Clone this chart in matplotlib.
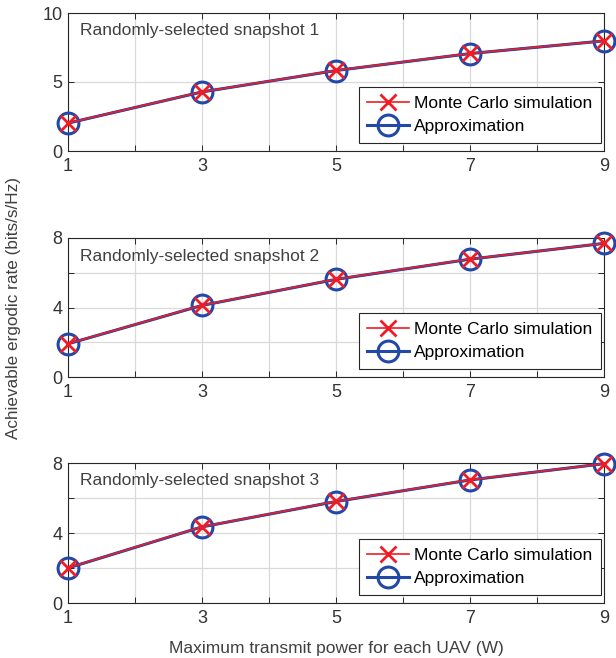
import matplotlib
matplotlib.use("Agg")
import matplotlib.pyplot as plt

power = [1, 3, 5, 7, 9]
mc1 = [2.03, 4.29, 5.84, 7.07, 7.98]
ap1 = [2.02, 4.28, 5.83, 7.06, 7.98]
mc2 = [1.92, 4.13, 5.63, 6.79, 7.69]
ap2 = [1.91, 4.12, 5.62, 6.78, 7.69]
mc3 = [2.01, 4.36, 5.81, 7.04, 7.96]
ap3 = [2.00, 4.35, 5.80, 7.03, 7.96]
labels = ["Randomly-selected snapshot 1", "Randomly-selected snapshot 2", "Randomly-selected snapshot 3"]
xticks = list(range(1, 10))
xticklabels = ["1", "", "3", "", "5", "", "7", "", "9"]
yticks_list = [[0, 5, 10], [0, 2, 4, 6, 8], [0, 2, 4, 6, 8]]
yticklabels_list = [["0", "5", "10"], ["0", "", "4", "", "8"], ["0", "", "4", "", "8"]]
ylims = [(0, 10), (0, 8), (0, 8)]

plt.rcParams['font.family'] = ['Liberation Sans', 'DejaVu Sans']
txt = '#262626'

fig = plt.figure(figsize=(6.16, 6.58), dpi=100)
W, H = 616, 658
boxes = [(13, 151), (238, 377), (463, 603)]
left, right = 68, 604
series = [(mc1, ap1), (mc2, ap2), (mc3, ap3)]

for i, (top, bot) in enumerate(boxes):
    ax = fig.add_axes([left / W, 1 - bot / H, (right - left) / W, (bot - top) / H])
    mc, ap = series[i]
    ax.plot(power, ap, color='#2448a8', lw=2.2, marker='o', ms=15, mfc='none', mew=2.2,
            label='Approximation', zorder=3, clip_on=False)
    ax.plot(power, mc, color='#ee1c25', lw=1.2, marker='x', ms=12, mew=2.0,
            label='Monte Carlo simulation', zorder=4, clip_on=False)
    ax.plot(power, ap, color='#2448a8', lw=1.6, zorder=3.5, clip_on=False)
    ax.set_xlim(1, 9)
    ax.set_ylim(*ylims[i])
    ax.set_xticks(xticks)
    ax.set_xticklabels(xticklabels)
    ax.set_yticks(yticks_list[i])
    ax.set_yticklabels(yticklabels_list[i])
    ax.grid(True, color='#d9d9d9', lw=0.9)
    ax.set_axisbelow(True)
    for s in ax.spines.values():
        s.set_color(txt)
        s.set_linewidth(0.8)
    ax.tick_params(direction='in', length=4, width=0.7, colors=txt, labelsize=13, pad=5,
                   top=True, right=True)
    ax.tick_params(axis='y', pad=4)
    for lab in ax.get_xticklabels() + ax.get_yticklabels():
        lab.set_color('#333333')
    ax.text(12 / (right - left), 1 - 18 / (bot - top), labels[i], transform=ax.transAxes,
            fontsize=12.5, color='#404040', va='center', ha='left')
    h, l = ax.get_legend_handles_labels()
    leg = ax.legend([h[1], h[0]], [l[1], l[0]], loc='lower right',
                    bbox_to_anchor=(1 - 3 / (right - left), 8 / (bot - top)),
                    fontsize=12.5, frameon=True, fancybox=False, framealpha=1,
                    edgecolor='#262626', handlelength=2.4, handletextpad=0.3,
                    borderpad=0.5, labelspacing=0.46, borderaxespad=0)
    leg.get_frame().set_linewidth(0.8)

fig.text(14 / W, 1 - 308 / H, 'Achievable ergodic rate (bits/s/Hz)', rotation=90, va='center', ha='center',
         fontsize=12.3, color='#404040')
fig.text(336 / W, 1 - 649 / H, 'Maximum transmit power for each UAV (W)',
         ha='center', va='center', fontsize=12.5, color='#404040')

fig.savefig('out.png', dpi=100)
